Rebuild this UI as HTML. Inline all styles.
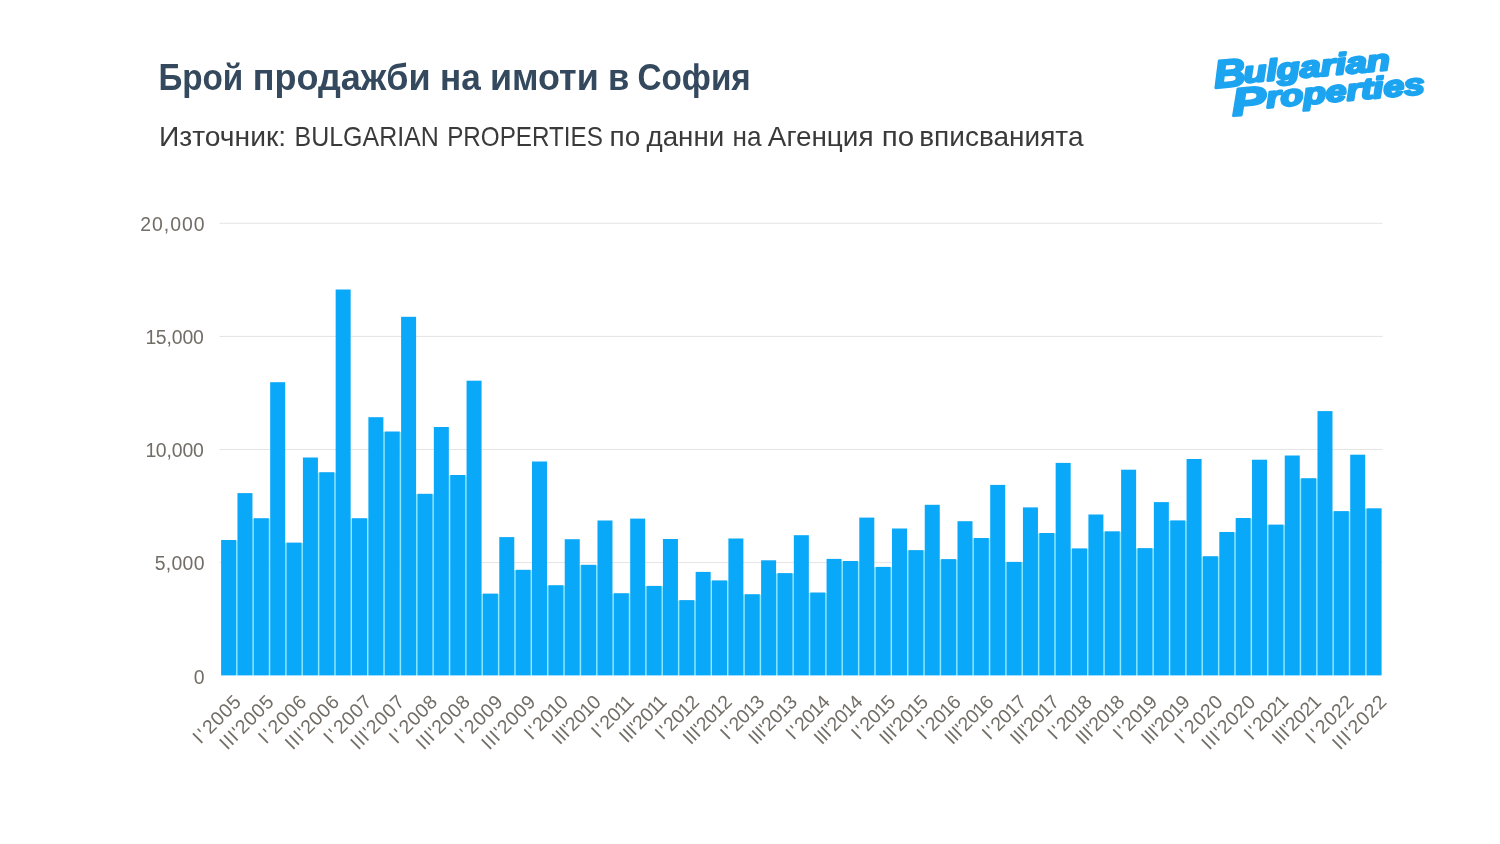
<!DOCTYPE html>
<html lang="bg"><head><meta charset="utf-8"><title>Брой продажби на имоти в София</title>
<style>
html,body{margin:0;padding:0;background:#fff;}
body{width:1500px;height:844px;overflow:hidden;}
svg{display:block;}
text{font-family:"Liberation Sans",sans-serif;}
.t{font-weight:bold;font-size:37px;fill:#34495e;}
.s{font-size:27.2px;fill:#3a3a3a;}
.y{font-size:19.4px;fill:#726d66;letter-spacing:1.0px;}
.x{font-size:19.4px;fill:#726d66;letter-spacing:0.6px;}
.logo{font-weight:bold;font-style:italic;fill:#1ca4f0;stroke:#1ca4f0;stroke-width:2.4px;stroke-linejoin:round;}
</style></head><body>
<svg width="1500" height="844" viewBox="0 0 1500 844">
<rect width="1500" height="844" fill="#ffffff"/>
<text class="t" y="90.4"><tspan x="158.4" textLength="84.9" lengthAdjust="spacingAndGlyphs">Брой</tspan> <tspan x="252.7" textLength="178.0" lengthAdjust="spacingAndGlyphs">продажби</tspan> <tspan x="440.0" textLength="40.7" lengthAdjust="spacingAndGlyphs">на</tspan> <tspan x="490.0" textLength="108.7" lengthAdjust="spacingAndGlyphs">имоти</tspan> <tspan x="608.0" textLength="21.3" lengthAdjust="spacingAndGlyphs">в</tspan> <tspan x="637.5" textLength="113.2" lengthAdjust="spacingAndGlyphs">София</tspan></text>
<text class="s" y="146"><tspan x="158.9" textLength="127.3" lengthAdjust="spacingAndGlyphs">Източник:</tspan> <tspan x="294.5" textLength="144.3" lengthAdjust="spacingAndGlyphs">BULGARIAN</tspan> <tspan x="447.2" textLength="155.6" lengthAdjust="spacingAndGlyphs">PROPERTIES</tspan> <tspan x="609.5" textLength="30.7" lengthAdjust="spacingAndGlyphs">по</tspan> <tspan x="646.5" textLength="77.7" lengthAdjust="spacingAndGlyphs">данни</tspan> <tspan x="732.5" textLength="29.0" lengthAdjust="spacingAndGlyphs">на</tspan> <tspan x="767.8" textLength="105.7" lengthAdjust="spacingAndGlyphs">Агенция</tspan> <tspan x="881.8" textLength="32.4" lengthAdjust="spacingAndGlyphs">по</tspan> <tspan x="919.2" textLength="164.3" lengthAdjust="spacingAndGlyphs">вписванията</tspan></text>
<g class="logo" transform="translate(1214,88) rotate(-5.1)">
<text><tspan x="1.0" y="0.2" font-size="39" textLength="31.5" lengthAdjust="spacingAndGlyphs">B</tspan><tspan x="30.5" y="-2.5" font-size="29.5" textLength="147" lengthAdjust="spacingAndGlyphs">ulgarian</tspan></text>
<text><tspan x="16.3" y="29.6" font-size="39" textLength="34.5" lengthAdjust="spacingAndGlyphs">P</tspan><tspan x="51" y="24.3" font-size="29.5" textLength="159" lengthAdjust="spacingAndGlyphs">roperties</tspan></text>
</g>
<g stroke="#e4e4e4" stroke-width="1">
<line x1="219.5" y1="223.3" x2="1382.5" y2="223.3"/>
<line x1="219.5" y1="336.4" x2="1382.5" y2="336.4"/>
<line x1="219.5" y1="449.5" x2="1382.5" y2="449.5"/>
<line x1="219.5" y1="562.6" x2="1382.5" y2="562.6"/>
</g>
<g class="y" text-anchor="end">
<text x="205.5" y="231.1" style="letter-spacing:1.0px">20,000</text>
<text x="204.4" y="344.2" style="letter-spacing:-0.1px"><tspan dx="-0.6">1</tspan><tspan dx="-0.5">5,000</tspan></text>
<text x="204.4" y="457.3" style="letter-spacing:-0.1px"><tspan dx="-0.6">1</tspan><tspan dx="-0.5">0,000</tspan></text>
<text x="204.8" y="570.4" style="letter-spacing:0.3px">5,000</text>
<text x="204.5" y="683.5" style="letter-spacing:0px">0</text>
</g>
<g fill="#8eeaff">
<rect x="235.90" y="540.5" width="1.76" height="134.9"/>
<rect x="252.26" y="518.7" width="1.76" height="156.7"/>
<rect x="268.63" y="518.7" width="1.76" height="156.7"/>
<rect x="284.99" y="543.1" width="1.76" height="132.3"/>
<rect x="301.36" y="543.1" width="1.76" height="132.3"/>
<rect x="317.72" y="472.7" width="1.76" height="202.7"/>
<rect x="334.08" y="472.7" width="1.76" height="202.7"/>
<rect x="350.45" y="518.7" width="1.76" height="156.7"/>
<rect x="366.81" y="518.7" width="1.76" height="156.7"/>
<rect x="383.18" y="432.0" width="1.76" height="243.4"/>
<rect x="399.54" y="432.0" width="1.76" height="243.4"/>
<rect x="415.90" y="494.3" width="1.76" height="181.1"/>
<rect x="432.27" y="494.3" width="1.76" height="181.1"/>
<rect x="448.63" y="475.5" width="1.76" height="199.9"/>
<rect x="465.00" y="475.5" width="1.76" height="199.9"/>
<rect x="481.36" y="594.1" width="1.76" height="81.3"/>
<rect x="497.72" y="594.1" width="1.76" height="81.3"/>
<rect x="514.09" y="570.3" width="1.76" height="105.1"/>
<rect x="530.45" y="570.3" width="1.76" height="105.1"/>
<rect x="546.82" y="585.7" width="1.76" height="89.7"/>
<rect x="563.18" y="585.7" width="1.76" height="89.7"/>
<rect x="579.54" y="565.3" width="1.76" height="110.1"/>
<rect x="595.91" y="565.3" width="1.76" height="110.1"/>
<rect x="612.27" y="593.7" width="1.76" height="81.7"/>
<rect x="628.64" y="593.7" width="1.76" height="81.7"/>
<rect x="645.00" y="586.4" width="1.76" height="89.0"/>
<rect x="661.36" y="586.4" width="1.76" height="89.0"/>
<rect x="677.73" y="600.6" width="1.76" height="74.8"/>
<rect x="694.09" y="600.6" width="1.76" height="74.8"/>
<rect x="710.46" y="580.9" width="1.76" height="94.5"/>
<rect x="726.82" y="580.9" width="1.76" height="94.5"/>
<rect x="743.18" y="594.7" width="1.76" height="80.7"/>
<rect x="759.55" y="594.7" width="1.76" height="80.7"/>
<rect x="775.91" y="573.6" width="1.76" height="101.8"/>
<rect x="792.28" y="573.6" width="1.76" height="101.8"/>
<rect x="808.64" y="593.0" width="1.76" height="82.4"/>
<rect x="825.00" y="593.0" width="1.76" height="82.4"/>
<rect x="841.37" y="561.5" width="1.76" height="113.9"/>
<rect x="857.73" y="561.5" width="1.76" height="113.9"/>
<rect x="874.10" y="567.4" width="1.76" height="108.0"/>
<rect x="890.46" y="567.4" width="1.76" height="108.0"/>
<rect x="906.82" y="550.6" width="1.76" height="124.8"/>
<rect x="923.19" y="550.6" width="1.76" height="124.8"/>
<rect x="939.55" y="559.6" width="1.76" height="115.8"/>
<rect x="955.92" y="559.6" width="1.76" height="115.8"/>
<rect x="972.28" y="538.5" width="1.76" height="136.9"/>
<rect x="988.64" y="538.5" width="1.76" height="136.9"/>
<rect x="1005.01" y="562.4" width="1.76" height="113.0"/>
<rect x="1021.37" y="562.4" width="1.76" height="113.0"/>
<rect x="1037.74" y="533.5" width="1.76" height="141.9"/>
<rect x="1054.10" y="533.5" width="1.76" height="141.9"/>
<rect x="1070.46" y="548.9" width="1.76" height="126.5"/>
<rect x="1086.83" y="548.9" width="1.76" height="126.5"/>
<rect x="1103.19" y="531.8" width="1.76" height="143.6"/>
<rect x="1119.56" y="531.8" width="1.76" height="143.6"/>
<rect x="1135.92" y="548.6" width="1.76" height="126.8"/>
<rect x="1152.28" y="548.6" width="1.76" height="126.8"/>
<rect x="1168.65" y="520.9" width="1.76" height="154.5"/>
<rect x="1185.01" y="520.9" width="1.76" height="154.5"/>
<rect x="1201.38" y="556.7" width="1.76" height="118.7"/>
<rect x="1217.74" y="556.7" width="1.76" height="118.7"/>
<rect x="1234.10" y="532.5" width="1.76" height="142.9"/>
<rect x="1250.47" y="518.5" width="1.76" height="156.9"/>
<rect x="1266.83" y="525.1" width="1.76" height="150.3"/>
<rect x="1283.20" y="525.1" width="1.76" height="150.3"/>
<rect x="1299.56" y="478.7" width="1.76" height="196.7"/>
<rect x="1315.92" y="478.7" width="1.76" height="196.7"/>
<rect x="1332.29" y="511.6" width="1.76" height="163.8"/>
<rect x="1348.65" y="511.6" width="1.76" height="163.8"/>
<rect x="1365.02" y="508.8" width="1.76" height="166.6"/>
</g>
<g fill="#0aa8f8">
<rect x="221.10" y="540.0" width="15.0" height="135.4"/>
<rect x="237.46" y="493.1" width="15.0" height="182.3"/>
<rect x="253.83" y="518.2" width="15.0" height="157.2"/>
<rect x="270.19" y="382.2" width="15.0" height="293.2"/>
<rect x="286.56" y="542.6" width="15.0" height="132.8"/>
<rect x="302.92" y="457.5" width="15.0" height="217.9"/>
<rect x="319.28" y="472.2" width="15.0" height="203.2"/>
<rect x="335.65" y="289.5" width="15.0" height="385.9"/>
<rect x="352.01" y="518.2" width="15.0" height="157.2"/>
<rect x="368.38" y="417.2" width="15.0" height="258.2"/>
<rect x="384.74" y="431.5" width="15.0" height="243.9"/>
<rect x="401.10" y="316.8" width="15.0" height="358.6"/>
<rect x="417.47" y="493.8" width="15.0" height="181.6"/>
<rect x="433.83" y="427.0" width="15.0" height="248.4"/>
<rect x="450.20" y="475.0" width="15.0" height="200.4"/>
<rect x="466.56" y="380.7" width="15.0" height="294.7"/>
<rect x="482.92" y="593.6" width="15.0" height="81.8"/>
<rect x="499.29" y="537.1" width="15.0" height="138.3"/>
<rect x="515.65" y="569.8" width="15.0" height="105.6"/>
<rect x="532.02" y="461.5" width="15.0" height="213.9"/>
<rect x="548.38" y="585.2" width="15.0" height="90.2"/>
<rect x="564.74" y="539.2" width="15.0" height="136.2"/>
<rect x="581.11" y="564.8" width="15.0" height="110.6"/>
<rect x="597.47" y="520.5" width="15.0" height="154.9"/>
<rect x="613.84" y="593.2" width="15.0" height="82.2"/>
<rect x="630.20" y="518.6" width="15.0" height="156.8"/>
<rect x="646.56" y="585.9" width="15.0" height="89.5"/>
<rect x="662.93" y="539.0" width="15.0" height="136.4"/>
<rect x="679.29" y="600.1" width="15.0" height="75.3"/>
<rect x="695.66" y="571.9" width="15.0" height="103.5"/>
<rect x="712.02" y="580.4" width="15.0" height="95.0"/>
<rect x="728.38" y="538.5" width="15.0" height="136.9"/>
<rect x="744.75" y="594.2" width="15.0" height="81.2"/>
<rect x="761.11" y="560.3" width="15.0" height="115.1"/>
<rect x="777.48" y="573.1" width="15.0" height="102.3"/>
<rect x="793.84" y="535.2" width="15.0" height="140.2"/>
<rect x="810.20" y="592.5" width="15.0" height="82.9"/>
<rect x="826.57" y="558.9" width="15.0" height="116.5"/>
<rect x="842.93" y="561.0" width="15.0" height="114.4"/>
<rect x="859.30" y="517.6" width="15.0" height="157.8"/>
<rect x="875.66" y="566.9" width="15.0" height="108.5"/>
<rect x="892.02" y="528.5" width="15.0" height="146.9"/>
<rect x="908.39" y="550.1" width="15.0" height="125.3"/>
<rect x="924.75" y="504.8" width="15.0" height="170.6"/>
<rect x="941.12" y="559.1" width="15.0" height="116.3"/>
<rect x="957.48" y="521.2" width="15.0" height="154.2"/>
<rect x="973.84" y="538.0" width="15.0" height="137.4"/>
<rect x="990.21" y="484.9" width="15.0" height="190.5"/>
<rect x="1006.57" y="561.9" width="15.0" height="113.5"/>
<rect x="1022.94" y="507.4" width="15.0" height="168.0"/>
<rect x="1039.30" y="533.0" width="15.0" height="142.4"/>
<rect x="1055.66" y="462.9" width="15.0" height="212.5"/>
<rect x="1072.03" y="548.4" width="15.0" height="127.0"/>
<rect x="1088.39" y="514.5" width="15.0" height="160.9"/>
<rect x="1104.76" y="531.3" width="15.0" height="144.1"/>
<rect x="1121.12" y="469.7" width="15.0" height="205.7"/>
<rect x="1137.48" y="548.1" width="15.0" height="127.3"/>
<rect x="1153.85" y="502.1" width="15.0" height="173.3"/>
<rect x="1170.21" y="520.4" width="15.0" height="155.0"/>
<rect x="1186.58" y="459.0" width="15.0" height="216.4"/>
<rect x="1202.94" y="556.2" width="15.0" height="119.2"/>
<rect x="1219.30" y="532.0" width="15.0" height="143.4"/>
<rect x="1235.67" y="518.0" width="15.0" height="157.4"/>
<rect x="1252.03" y="459.7" width="15.0" height="215.7"/>
<rect x="1268.40" y="524.6" width="15.0" height="150.8"/>
<rect x="1284.76" y="455.5" width="15.0" height="219.9"/>
<rect x="1301.12" y="478.2" width="15.0" height="197.2"/>
<rect x="1317.49" y="411.1" width="15.0" height="264.3"/>
<rect x="1333.85" y="511.1" width="15.0" height="164.3"/>
<rect x="1350.22" y="454.7" width="15.0" height="220.7"/>
<rect x="1366.58" y="508.3" width="15.0" height="167.1"/>
</g>
<g class="x" text-anchor="end">
<text transform="translate(242.5,702.8) rotate(-45)">I<tspan dx="1.6">'</tspan><tspan dx="2.0">2005</tspan></text>
<text transform="translate(275.2,702.8) rotate(-45)">III'2005</text>
<text transform="translate(308.0,702.8) rotate(-45)">I<tspan dx="1.6">'</tspan><tspan dx="2.0">2006</tspan></text>
<text transform="translate(340.7,702.8) rotate(-45)">III'2006</text>
<text transform="translate(373.4,702.8) rotate(-45)">I<tspan dx="1.6">'</tspan><tspan dx="2.0">2007</tspan></text>
<text transform="translate(406.1,702.8) rotate(-45)">III'2007</text>
<text transform="translate(438.9,702.8) rotate(-45)">I<tspan dx="1.6">'</tspan><tspan dx="2.0">2008</tspan></text>
<text transform="translate(471.6,702.8) rotate(-45)">III'2008</text>
<text transform="translate(504.3,702.8) rotate(-45)">I<tspan dx="1.6">'</tspan><tspan dx="2.0">2009</tspan></text>
<text transform="translate(537.1,702.8) rotate(-45)">III'2009</text>
<text transform="translate(569.1,703.4) rotate(-45)" style="letter-spacing:-0.3px">I<tspan dx="1.6">'</tspan><tspan dx="2.0">20</tspan><tspan dx="-0.6">1</tspan><tspan dx="-0.5">0</tspan></text>
<text transform="translate(601.9,703.4) rotate(-45)" style="letter-spacing:-0.3px">III'20<tspan dx="-0.6">1</tspan><tspan dx="-0.5">0</tspan></text>
<text transform="translate(635.0,703.1) rotate(-45)" style="letter-spacing:-0.3px">I<tspan dx="1.6">'</tspan><tspan dx="2.0">20</tspan><tspan dx="-0.6">1</tspan><tspan dx="-1.1">1</tspan></text>
<text transform="translate(667.7,703.1) rotate(-45)" style="letter-spacing:-0.3px">III'20<tspan dx="-0.6">1</tspan><tspan dx="-1.1">1</tspan></text>
<text transform="translate(700.1,703.4) rotate(-45)" style="letter-spacing:-0.3px">I<tspan dx="1.6">'</tspan><tspan dx="2.0">20</tspan><tspan dx="-0.6">1</tspan><tspan dx="-0.5">2</tspan></text>
<text transform="translate(732.8,703.4) rotate(-45)" style="letter-spacing:-0.3px">III'20<tspan dx="-0.6">1</tspan><tspan dx="-0.5">2</tspan></text>
<text transform="translate(765.5,703.4) rotate(-45)" style="letter-spacing:-0.3px">I<tspan dx="1.6">'</tspan><tspan dx="2.0">20</tspan><tspan dx="-0.6">1</tspan><tspan dx="-0.5">3</tspan></text>
<text transform="translate(798.2,703.4) rotate(-45)" style="letter-spacing:-0.3px">III'20<tspan dx="-0.6">1</tspan><tspan dx="-0.5">3</tspan></text>
<text transform="translate(831.0,703.4) rotate(-45)" style="letter-spacing:-0.3px">I<tspan dx="1.6">'</tspan><tspan dx="2.0">20</tspan><tspan dx="-0.6">1</tspan><tspan dx="-0.5">4</tspan></text>
<text transform="translate(863.7,703.4) rotate(-45)" style="letter-spacing:-0.3px">III'20<tspan dx="-0.6">1</tspan><tspan dx="-0.5">4</tspan></text>
<text transform="translate(896.4,703.4) rotate(-45)" style="letter-spacing:-0.3px">I<tspan dx="1.6">'</tspan><tspan dx="2.0">20</tspan><tspan dx="-0.6">1</tspan><tspan dx="-0.5">5</tspan></text>
<text transform="translate(929.2,703.4) rotate(-45)" style="letter-spacing:-0.3px">III'20<tspan dx="-0.6">1</tspan><tspan dx="-0.5">5</tspan></text>
<text transform="translate(961.9,703.4) rotate(-45)" style="letter-spacing:-0.3px">I<tspan dx="1.6">'</tspan><tspan dx="2.0">20</tspan><tspan dx="-0.6">1</tspan><tspan dx="-0.5">6</tspan></text>
<text transform="translate(994.6,703.4) rotate(-45)" style="letter-spacing:-0.3px">III'20<tspan dx="-0.6">1</tspan><tspan dx="-0.5">6</tspan></text>
<text transform="translate(1027.3,703.4) rotate(-45)" style="letter-spacing:-0.3px">I<tspan dx="1.6">'</tspan><tspan dx="2.0">20</tspan><tspan dx="-0.6">1</tspan><tspan dx="-0.5">7</tspan></text>
<text transform="translate(1060.1,703.4) rotate(-45)" style="letter-spacing:-0.3px">III'20<tspan dx="-0.6">1</tspan><tspan dx="-0.5">7</tspan></text>
<text transform="translate(1092.8,703.4) rotate(-45)" style="letter-spacing:-0.3px">I<tspan dx="1.6">'</tspan><tspan dx="2.0">20</tspan><tspan dx="-0.6">1</tspan><tspan dx="-0.5">8</tspan></text>
<text transform="translate(1125.5,703.4) rotate(-45)" style="letter-spacing:-0.3px">III'20<tspan dx="-0.6">1</tspan><tspan dx="-0.5">8</tspan></text>
<text transform="translate(1158.2,703.4) rotate(-45)" style="letter-spacing:-0.3px">I<tspan dx="1.6">'</tspan><tspan dx="2.0">20</tspan><tspan dx="-0.6">1</tspan><tspan dx="-0.5">9</tspan></text>
<text transform="translate(1191.0,703.4) rotate(-45)" style="letter-spacing:-0.3px">III'20<tspan dx="-0.6">1</tspan><tspan dx="-0.5">9</tspan></text>
<text transform="translate(1224.3,702.8) rotate(-45)">I<tspan dx="1.6">'</tspan><tspan dx="2.0">2020</tspan></text>
<text transform="translate(1257.1,702.8) rotate(-45)">III'2020</text>
<text transform="translate(1289.5,703.1) rotate(-45)" style="letter-spacing:-0.3px">I<tspan dx="1.6">'</tspan><tspan dx="2.0">202</tspan><tspan dx="-0.6">1</tspan></text>
<text transform="translate(1322.2,703.1) rotate(-45)" style="letter-spacing:-0.3px">III'202<tspan dx="-0.6">1</tspan></text>
<text transform="translate(1355.3,702.8) rotate(-45)">I<tspan dx="1.6">'</tspan><tspan dx="2.0">2022</tspan></text>
<text transform="translate(1388.0,702.8) rotate(-45)">III'2022</text>
</g>
</svg></body></html>
